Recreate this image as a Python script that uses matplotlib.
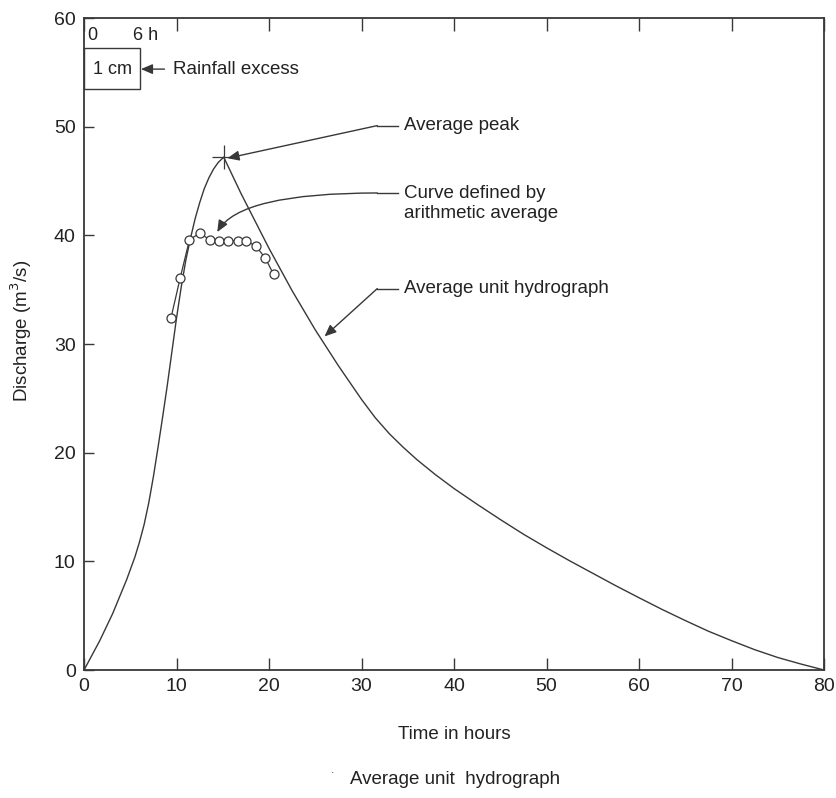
import matplotlib
matplotlib.use('Agg')
import matplotlib.pyplot as plt
from matplotlib.patches import Rectangle

plt.rcParams['font.family'] = ['Liberation Sans', 'DejaVu Sans']

# average unit hydrograph (hours, m3/s)
rise_t = [0, 1.7, 3.1, 4.6, 5.5, 6.0, 6.5, 7.0, 7.5, 8.0, 8.5, 9.0, 9.5, 10.0, 10.5,
          11.0, 11.5, 12.0, 12.5, 13.0, 13.5, 14.0, 14.5, 15.1]
rise_q = [0, 2.7, 5.2, 8.3, 10.4, 11.8, 13.4, 15.4, 17.8, 20.5, 23.3, 26.2, 29.3, 32.4, 35.2,
          37.7, 39.7, 41.5, 43.0, 44.3, 45.3, 46.1, 46.7, 47.2]
fall_t = [17.0, 20.0, 22.5, 25.0, 27.5, 30.0, 31.5, 33.0, 34.5, 36.0, 38.0, 40.0, 42.5, 45.0,
          47.5, 50.0, 52.5, 55.0, 57.5, 60.0, 62.5, 65.0, 67.5, 70.0, 72.5, 75.0, 77.5, 80.0]
fall_q = [43.8, 38.8, 34.9, 31.3, 28.0, 24.9, 23.2, 21.75, 20.5, 19.35, 17.97, 16.7, 15.25, 13.85,
          12.5, 11.25, 10.05, 8.9, 7.75, 6.65, 5.57, 4.55, 3.57, 2.7, 1.87, 1.15, 0.55, 0.0]

# arithmetic average of the individual hydrographs
avg_t = [9.4, 10.4, 11.4, 12.5, 13.6, 14.6, 15.6, 16.6, 17.5, 18.6, 19.6, 20.5]
avg_q = [32.4, 36.1, 39.6, 40.2, 39.6, 39.5, 39.5, 39.5, 39.5, 39.0, 37.9, 36.4]

peak_t, peak_q = 15.1, 47.2

xticks = [0, 10, 20, 30, 40, 50, 60, 70, 80]
yticks = [0, 10, 20, 30, 40, 50, 60]

ink = '#383838'
txt_c = '#222222'

fig = plt.figure(figsize=(8.37, 7.98), dpi=100)
ax = fig.add_axes([0.1004, 0.1604, 0.8841, 0.817])

ax.plot(rise_t + fall_t, rise_q + fall_q, color=ink, lw=1.0)
ax.plot(avg_t, avg_q, color=ink, lw=0.9, marker='o', ms=6.5, mfc='white', mec=ink, mew=0.9)
ax.plot([peak_t], [peak_q], marker='+', ms=17, mew=0.9, color=ink)

ax.set_xlim(0, 80)
ax.set_ylim(0, 60)
ax.set_xticks(xticks)
ax.set_yticks(yticks)
ax.tick_params(axis='x', direction='in', length=9, width=1.0, top=True, pad=6,
               labelsize=14, colors=ink, labelcolor=txt_c)
ax.tick_params(axis='y', direction='in', length=7.5, width=1.0, right=False, pad=6,
               labelsize=14, colors=ink, labelcolor=txt_c)
for s in ax.spines.values():
    s.set_color(ink)
    s.set_linewidth(1.3)

ax.set_xlabel('Time in hours', fontsize=13.5, color=txt_c, labelpad=22)
ax.set_ylabel('Discharge (m$^3$/s)', fontsize=13.5, color=txt_c)
ax.yaxis.set_label_coords(-0.068, 0.52)

# rainfall excess block
ax.add_patch(Rectangle((0, 53.5), 6, 3.7, fill=False, ec=ink, lw=1.0, clip_on=False))
ax.text(0.3, 58.4, '0', fontsize=13, va='center', ha='left', color=txt_c)
ax.text(5.3, 58.4, '6 h', fontsize=13, va='center', ha='left', color=txt_c)
ax.text(3.1, 55.3, '1 cm', fontsize=13, va='center', ha='center', color=txt_c)
arrow = dict(arrowstyle='-|>,head_length=0.7,head_width=0.3', color=ink, lw=1.0,
             shrinkA=0, shrinkB=0)
ax.annotate('', xy=(6.15, 55.3), xytext=(8.7, 55.3), arrowprops=arrow)
ax.text(9.6, 55.3, 'Rainfall excess', fontsize=13.5, va='center', ha='left', color=txt_c)

# labels with leader lines
label_x = 34.6
corner_x = 31.7
notes = [
    ('Average peak', 50.1, (15.5, 47.1)),
    ('Average unit hydrograph', 35.1, (26.0, 30.7)),
]
for txt, y, tip in notes:
    ax.plot([corner_x, label_x - 0.7], [y, y], color=ink, lw=1.0)
    ax.annotate('', xy=tip, xytext=(corner_x, y), arrowprops=arrow)
    ax.text(label_x, y, txt, fontsize=13.5, va='center', ha='left', color=txt_c)

curve_y = 43.9
ax.plot([corner_x, label_x - 0.7], [curve_y, curve_y], color=ink, lw=1.0)
ax.annotate('', xy=(14.4, 40.3), xytext=(corner_x, curve_y),
            arrowprops=dict(arrow, connectionstyle='angle3,angleA=0,angleB=60'))
ax.text(label_x, 42.9, 'Curve defined by\narithmetic average', fontsize=13.5,
        va='center', ha='left', color=txt_c, linespacing=1.25)

fig.text(0.5435, 0.012, 'Average unit  hydrograph', fontsize=13.5, ha='center',
         va='bottom', color=txt_c)
fig.text(0.397, 0.028, '.', fontsize=9, ha='center', va='bottom', color='#555555')

fig.savefig('out.png', dpi=100)
